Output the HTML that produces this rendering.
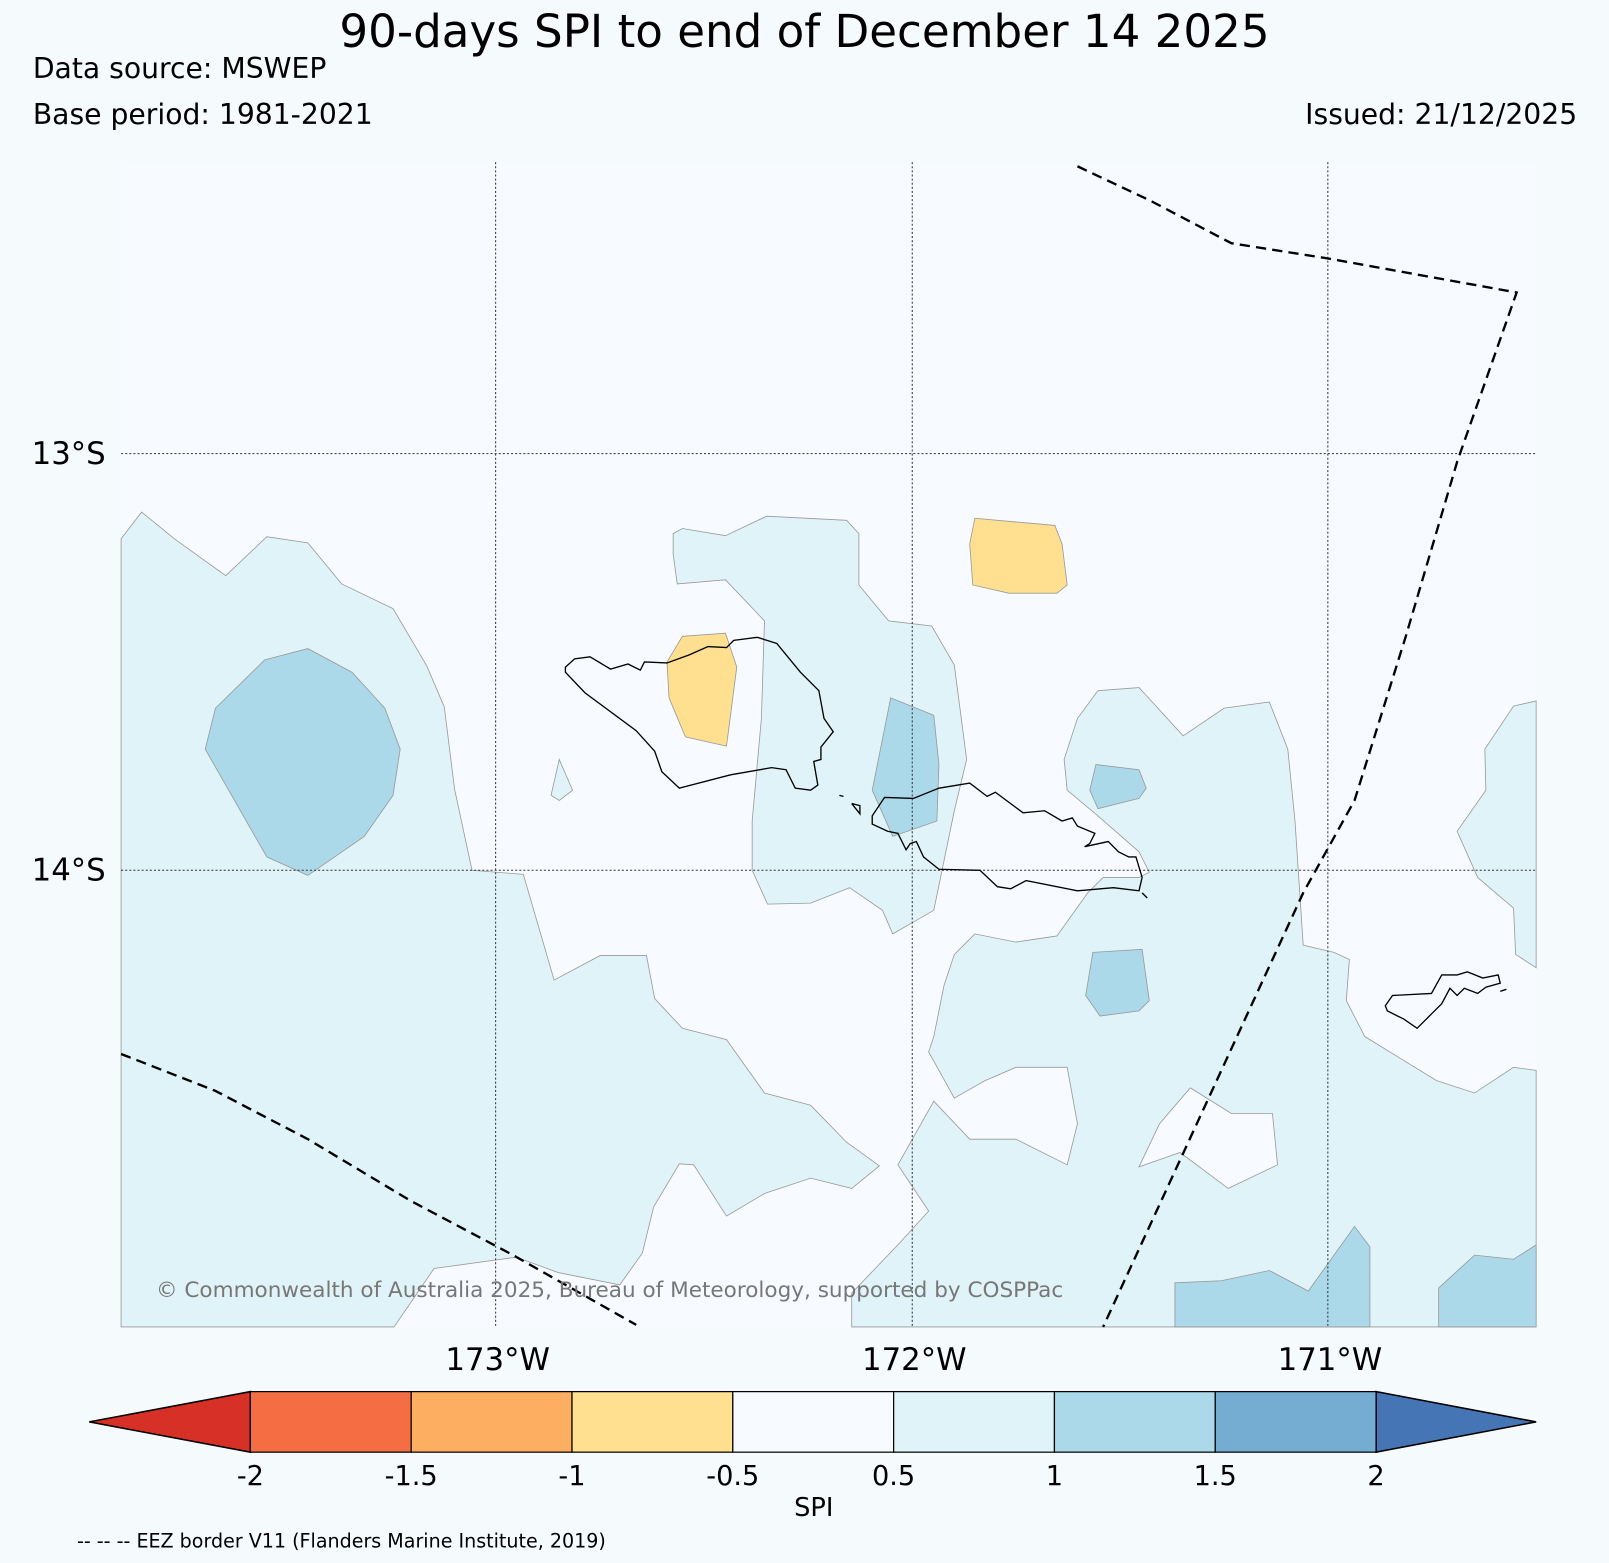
<!DOCTYPE html>
<html><head><meta charset="utf-8"><style>
html,body{margin:0;padding:0;background:#f5fafd;}
svg{display:block;font-family:"DejaVu Sans","Liberation Sans",sans-serif;}
</style></head><body>
<svg width="1609" height="1563" viewBox="0 0 1568 1523" preserveAspectRatio="none">
<rect width="1568" height="1523" fill="#f5fafd"/>
<text x="784" y="46" font-size="44" text-anchor="middle">90-days SPI to end of December 14 2025</text>
<text x="32" y="76" font-size="27.5">Data source: MSWEP</text>
<text x="32" y="121" font-size="27.5">Base period: 1981-2021</text>
<text x="1537" y="121" font-size="27.5" text-anchor="end">Issued: 21/12/2025</text>
<g>
<rect x="118" y="158" width="1379" height="1135" fill="#f7fbff"/>
<g stroke="#999" stroke-width="0.8">
<polygon fill="#e0f3f8" points="118,525 138,499 170,525 220,561 260,523 300,529 333,569 383,593 416,649 433,689 443,769 460,848 510,852 540,955 585,931 630,931 638,973 665,1002 708,1013 745,1065 790,1077 825,1113 857,1136 830,1158 790,1148 745,1163 708,1185 676,1135 662,1134 637,1176 626,1221 604,1252 544,1240 503,1225 423,1236 384,1293 118,1293"/>
<polygon fill="#e0f3f8" points="656,520 665,515 707,522 747,503 825,507 837,520 837,570 866,605 908,610 930,648 942,740 930,790 910,887 870,910 860,887 828,865 790,880 748,881 733,848 733,800 742,700 745,605 707,565 660,569 656,540"/>
<polygon fill="#e0f3f8" points="1070,673 1110,670 1153,717 1193,690 1237,684 1255,730 1262,800 1270,921 1300,928 1315,935 1312,975 1330,1010 1400,1053 1437,1065 1475,1040 1497,1043 1497,1293 830,1293 830,1260 875,1213 905,1180 875,1135 910,1073 945,1110 990,1110 1040,1135 1050,1095 1040,1040 990,1040 960,1053 930,1070 905,1025 910,1010 920,960 930,930 950,910 990,918 1030,912 1060,870 1075,855 1110,855 1120,850 1110,830 1070,795 1040,770 1037,740 1050,700"/>
<polygon fill="#f7fbff" points="1110,1137 1130,1095 1160,1060 1200,1085 1240,1085 1245,1135 1197,1158 1150,1123"/>
<polygon fill="#e0f3f8" points="1497,683 1475,688 1447,730 1448,770 1420,810 1440,855 1475,885 1477,930 1497,943"/>
<polygon fill="#e0f3f8" points="537,775 545,740 558,770 545,780"/>
<polygon fill="#abd9e9" points="210,690 258,643 300,632 343,655 375,690 390,730 383,775 355,815 300,853 260,835 200,730"/>
<polygon fill="#abd9e9" points="868,680 910,697 915,745 913,800 870,815 850,770"/>
<polygon fill="#abd9e9" points="1068,745 1110,750 1117,768 1110,778 1070,788 1062,770"/>
<polygon fill="#abd9e9" points="1065,928 1113,925 1120,975 1110,985 1072,990 1058,970"/>
<polygon fill="#abd9e9" points="1145,1250 1190,1248 1237,1238 1275,1258 1320,1195 1335,1215 1335,1293 1145,1293"/>
<polygon fill="#abd9e9" points="1402,1255 1437,1223 1475,1227 1497,1213 1497,1293 1402,1293"/>
<polygon fill="#fee090" points="950,505 1028,512 1035,530 1040,570 1030,578 983,578 948,570 945,530"/>
<polygon fill="#fee090" points="665,620 707,617 718,650 708,727 668,718 652,680 650,645"/>
</g>
<g stroke="#333" stroke-width="1" stroke-dasharray="2,2">
<line x1="483" y1="158" x2="483" y2="1293"/><line x1="889" y1="158" x2="889" y2="1293"/><line x1="1294" y1="158" x2="1294" y2="1293"/>
<line x1="118" y1="442" x2="1497" y2="442"/><line x1="118" y1="848" x2="1497" y2="848"/>
</g>
<g fill="none" stroke="#000" stroke-width="1.3">
<polygon points="551,650 560,642 575,640 595,652 612,647 624,653 628,645 650,646 672,638 690,630 708,631 715,624 738,621 757,627 780,655 798,673 803,700 812,713 800,728 800,740 793,742 797,765 790,770 775,768 766,750 752,748 712,755 662,768 645,752 638,732 620,712 570,675 551,655"/>
<polygon points="850,795 862,777 890,778 915,768 945,763 962,776 970,772 997,792 1018,790 1035,800 1045,797 1050,805 1067,812 1062,822 1057,825 1080,820 1090,830 1100,835 1107,835 1113,855 1110,868 1085,865 1050,868 1000,858 985,866 972,864 955,848 915,847 900,835 893,820 887,822 883,828 875,812 865,810 850,803"/>
<polyline points="1113,870 1118,875"/>
<polyline points="818,775 822,776"/><polyline points="830,783 838,793 838,785 830,783"/>
<polygon points="1350,980 1357,970 1395,968 1405,950 1420,950 1430,947 1445,953 1460,950 1462,958 1448,962 1440,968 1427,963 1420,970 1413,963 1405,978 1395,988 1381,1002 1368,993 1352,985"/>
<polyline points="1462,966 1468,964"/>
</g>
<g fill="none" stroke="#000" stroke-width="2.3" stroke-dasharray="10,6">
<polyline points="1050,162 1120,195 1200,237 1295,252 1478,285 1420,450 1370,620 1320,780 1270,870 1075,1293"/>
<polyline points="118,1027 210,1063 300,1110 400,1170 500,1223 620,1291"/>
</g>
<text x="152" y="1264" font-size="21" fill="#777">© Commonwealth of Australia 2025, Bureau of Meteorology, supported by COSPPac</text>
</g>
<g font-size="30">
<text x="103" y="452" text-anchor="end">13°S</text>
<text x="103" y="858" text-anchor="end">14°S</text>
<text x="485" y="1335" text-anchor="middle">173°W</text>
<text x="891" y="1335" text-anchor="middle">172°W</text>
<text x="1296" y="1335" text-anchor="middle">171°W</text>
</g>
<g id="cbar"></g>
<text x="793" y="1477" font-size="25" text-anchor="middle">SPI</text>
<text x="75" y="1508" font-size="18.6">-- -- -- EEZ border V11 (Flanders Marine Institute, 2019)</text>
<script>
const bounds = ["-2","-1.5","-1","-0.5","0.5","1","1.5","2"];
const binColors = ["#f46d43","#fdae61","#fee090","#f7fbff","#e0f3f8","#abd9e9","#74add1"];
const extendColors = ["#d73027","#4575b4"];
const NS='http://www.w3.org/2000/svg';
const g=document.getElementById('cbar');
const x0=244,x1=1341,y0=1356,y1=1415,tipL=87,tipR=1497;
const w=(x1-x0)/binColors.length;
function xpos(i){return x0+i*w;}
function mk(tag,attrs){const e=document.createElementNS(NS,tag);for(const k in attrs)e.setAttribute(k,attrs[k]);g.appendChild(e);return e;}
const lt=mk('polygon',{points:`${tipL},${(y0+y1)/2} ${x0},${y0} ${x0},${y1}`,fill:extendColors[0],stroke:'#000','stroke-width':1.5});


const rt=mk('polygon',{points:`${tipR},${(y0+y1)/2} ${x1},${y0} ${x1},${y1}`,fill:extendColors[1],stroke:'#000','stroke-width':1.5});


binColors.forEach((c,i)=>{
  const r=mk('rect',{x:xpos(i),y:y0,width:w,height:y1-y0,fill:c,stroke:'#000','stroke-width':1.2});
  
  
});
bounds.forEach((b,i)=>{
  const t=mk('text',{x:xpos(i),y:1447,'font-size':26.5,'text-anchor':'middle'});
  t.textContent=b;
  
  
});
</script>
</svg>
</body></html>
